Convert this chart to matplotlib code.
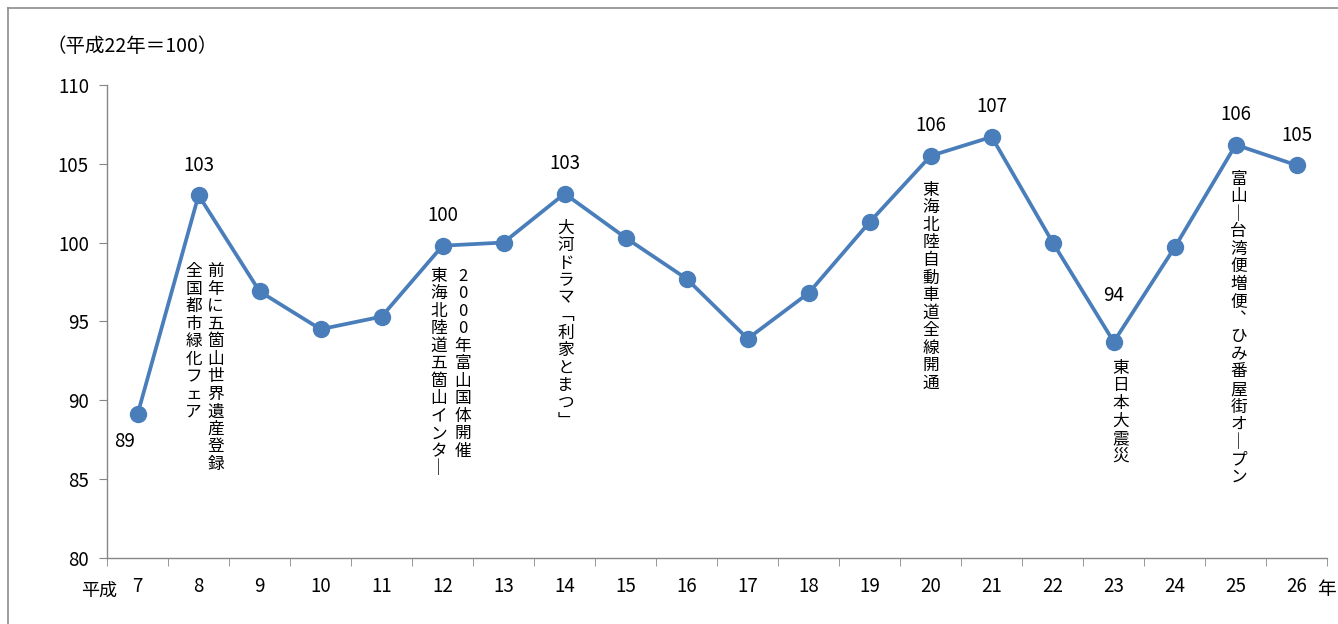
import matplotlib
matplotlib.use('Agg')
import matplotlib.pyplot as plt
from matplotlib.lines import Line2D

plt.rcParams['font.family'] = ['Noto Sans CJK JP', 'DejaVu Sans']

#################### DATA ##############################
years = ['7', '8', '9', '10', '11', '12', '13', '14', '15', '16',
         '17', '18', '19', '20', '21', '22', '23', '24', '25', '26']
index = [89.1, 103.0, 96.9, 94.5, 95.3, 99.8, 100.0, 103.1, 100.3, 97.7,
         93.9, 96.8, 101.3, 105.5, 106.7, 100.0, 93.7, 99.7, 106.2, 104.9]

# value labels: (position, text, x offset px, y offset px)
value_labels = [(0, '89', -13, -27), (1, '103', 0, 30), (5, '100', 0, 30),
                (7, '103', 0, 30), (13, '106', 0, 30), (14, '107', 0, 30),
                (16, '94', 0, 46), (18, '106', 0, 30), (19, '105', 0, 30)]

# event notes (position, text, x offset px, y offset px)
events = [(1, '前年に五箇山世界遺産登録', 17, -68),
          (1, '全国都市緑化フェア', -5, -68),
          (5, '2000年富山国体開催', 20, -22),
          (5, '東海北陸道五箇山インター', -4, -22),
          (7, '大河ドラマ「利家とまつ」', 1, -26),
          (13, '東海北陸自動車道全線開通', 0, -26),
          (16, '東日本大震災', 7, -18),
          (18, '富山ー台湾便増便、ひみ番屋街オープン', 3, -26)]

vert = {'ー': '｜', '「': '﹁', '」': '﹂', '、': '︑'}


def tate(s):
    return '\n'.join(vert.get(c, c) for c in s)


#################### PLOT ##############################
fig = plt.figure(figsize=(13.38, 6.24), dpi=100)
ax = fig.add_axes([0.080, 0.106, 0.912, 0.758])

x = list(range(len(years)))
blue = '#4A7EBB'
ax.plot(x, index, color=blue, lw=2.7, marker='o', ms=11.5, zorder=3)

ax.set_xlim(-0.5, len(years) - 0.5)
ax.set_ylim(80, 110)
ax.set_yticks(range(80, 111, 5))
ax.set_xticks(x)
ax.set_xticklabels(years)
ax.set_xticks([i - 0.5 for i in range(len(years) + 1)], minor=True)
ax.tick_params(axis='x', which='major', length=0, pad=13, labelsize=13.5)
ax.tick_params(axis='x', which='minor', length=6, color='#868686', direction='out')
ax.tick_params(axis='y', length=6, color='#868686', labelsize=13.5, pad=7)

for s in ['top', 'right']:
    ax.spines[s].set_visible(False)
for s in ['left', 'bottom']:
    ax.spines[s].set_color('#868686')
    ax.spines[s].set_linewidth(1.0)

for i, t, dx, dy in value_labels:
    ax.annotate(t, (i, index[i]), xytext=(dx, dy), textcoords='offset pixels',
                ha='center', va='center', fontsize=13.5)

for i, t, dx, dy in events:
    ax.annotate(tate(t), (i, index[i]), xytext=(dx, dy), textcoords='offset pixels',
                ha='center', va='top', fontsize=12, linespacing=1.04)

fig.text(47 / 1338, 1 - 46 / 624, '（平成22年＝100）', fontsize=14, va='center')
fig.text(99 / 1338, 1 - 591 / 624, '平成', fontsize=13, va='center', ha='center')
fig.text(1326 / 1338, 1 - 590 / 624, '年', fontsize=13.5, va='center', ha='center')

# outer frame
fig.add_artist(Line2D([8 / 1338, 8 / 1338], [0, 1 - 8 / 624], color='#8c8c8c', lw=1.2))
fig.add_artist(Line2D([8 / 1338, 1], [1 - 8 / 624, 1 - 8 / 624], color='#8c8c8c', lw=1.2))

fig.savefig('out.png', dpi=100)
